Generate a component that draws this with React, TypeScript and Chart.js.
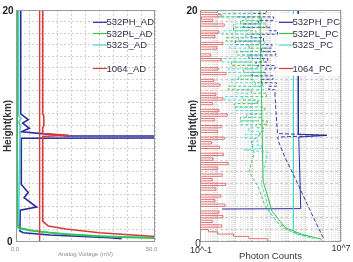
import React, { useEffect, useRef } from "react";
import { Chart, registerables } from "chart.js";

Chart.register(...registerables);

// ---------- colours ----------
const NAVY = "#2a2aa0";
const GREEN = "#3cc04c";
const CYAN = "#3fd8d2";
const RED = "#d83a3a";
const RED_PC = "#e05252";

// ---------- analog channels: height (km) -> voltage (mV) ----------
const PH_AD_KM = [20, 11.0, 10.5, 10.2, 9.76, 9.46, 9.1, 9.08, 8.92, 8.9, 4.9, 4.2, 3.75, 2.94, 2.66, 0.87, 0.72, 0.52, 0.29, 0.2];
const PH_AD_MV = [1.7, 1.7, 4.4, 2.4, 4.8, 2.0, 18, 60, 60, 1.9, 1.9, 4.4, 2.9, 7.4, 1.5, 1.4, 2.6, 12.2, 33.8, 38];

const PL_AD_KM = [20, 1.5, 1.15, 0.87, 0.58, 0.35, 0.23];
const PL_AD_MV = [0.4, 0.4, 0.8, 6.2, 18.2, 33.8, 52];

const S_AD_KM = [20, 10.9, 10.6, 10.3, 10.0, 1.3, 1.04, 0.72, 0.43, 0.29];
const S_AD_MV = [0.9, 0.9, 1.8, 1.0, 1.5, 0.9, 1.2, 12.2, 30, 52];

const IR_AD_KM = [20, 11.0, 10.8, 10.0, 9.8, 9.3, 9.15, 9.05, 1.73, 1.3, 1.04, 0.72, 0.35];
const IR_AD_MV = [9.6, 9.6, 10.0, 10.0, 9.6, 9.6, 19, 9.6, 9.6, 11.6, 18, 30, 52];

const IR_AD_BASE_KM = [20, 0];
const IR_AD_BASE_MV = [8.5, 8.5];

// ---------- photon-counting channels: height (km) -> counts ----------
const PH_PC_KM = [20, 9.25, 9.15, 9.0, 2.8, 2.77];
const PH_PC_COUNTS = [37000, 38000, 1.6e6, 40000, 52000, 1.8];

// raw 532PH counts, 0.3 km bins from 20 km
const PH_RAW_COUNTS = [40, 600, 15, 1500, 200, 30, 900, 2500, 80, 400, 10, 1200, 300, 2000, 60, 700, 150, 1800, 500, 90, 1400, 300, 2200, 800, 1800];
const PH_RAW_LOW_KM = [12.8, 12.5, 9.3, 9.15, 9.0, 8.7, 7.2, 5.45, 3.2, 1.73, 0.26];
const PH_RAW_LOW_COUNTS = [1800, 1800, 2500, 1.6e6, 2600, 2700, 6800, 25000, 120000, 340000, 1e6];

const PL_PC_KM = [20, 5.2, 2.6, 1.15, 0.58, 0.15];
const PL_PC_COUNTS = [250, 380, 1200, 6800, 60000, 8e5];

// raw 532PL counts, 0.3 km bins from 20 km
const PL_RAW_COUNTS = [5, 80, 2, 300, 20, 600, 8, 150, 40, 3, 250, 60, 700, 12, 90, 400, 6, 200, 30, 500, 15, 120, 350, 4, 80, 600, 25, 180, 9, 450, 70, 300, 20, 650, 150, 400, 250];
const PL_RAW_LOW_KM = [9.2, 8.6, 7.6, 6.0, 4.7, 3.0, 1.6, 0.8, 0.3];
const PL_RAW_LOW_COUNTS = [250, 80, 120, 60, 200, 500, 2500, 15000, 200000];

const S_PC_KM = [20, 0.87, 0.5];
const S_PC_COUNTS = [20000, 20000, 40000];

// raw 532S counts, 0.3 km bins from 20 km
const S_RAW_COUNTS = [3, 120, 1, 40, 300, 8, 60, 2, 200, 15, 450, 5, 90, 25, 350, 1.5, 70, 180, 4, 260, 30, 6, 140, 400, 12, 50, 2.5, 220, 80, 10, 320, 45, 150, 20, 100, 60, 250, 35, 180, 90, 300];
const S_RAW_LOW_KM = [8.0, 7.9, 7.7, 5.0, 2.5, 1.2, 0.6, 0.2];
const S_RAW_LOW_COUNTS = [300, 30, 700, 300, 900, 4000, 30000, 3e5];

// 1064 counts, 0.2 km bins from 20 km
const IR_PC_COUNTS = [
  0.1, 1, 0.1, 1.6, 0.12, 0.5, 0.1, 2.4, 0.1, 0.1, 1.2, 0.1, 0.7, 0.1, 0.1, 2, 0.1, 0.9, 0.1, 0.1,
  0.4, 0.1, 1.6, 0.1, 0.1, 0.1, 1.1, 0.1, 3, 0.1, 0.1, 0.6, 0.1, 1.4, 0.1, 0.1, 0.1, 0.8, 0.1, 2,
  0.1, 0.5, 0.1, 0.1, 1.2, 0.1, 3.5, 0.1, 0.65, 0.1, 0.1, 1.6, 0.1, 1, 0.1, 0.1, 2.4, 0.1, 0.45, 0.1,
  1.3, 0.1, 0.1, 2.2, 0.1, 0.55, 0.1, 4, 0.1, 1, 0.1, 0.1, 1.8, 0.1, 0.5, 0.1, 2.8, 0.1, 0.8, 0.1,
  0.1, 1.5, 0.1, 0.7, 0.1, 2.6, 0.1, 0.1, 1.2, 0.1, 2, 0.1, 0.5, 0.1, 1.7, 0.1, 0.3, 1, 8, 60, 700,
];

const AD_LEGEND = ["532PH_AD", "532PL_AD", "532S_AD", "1064_AD"];
const PC_LEGEND = ["532PH_PC", "532PL_PC", "532S_PC", "1064_PC"];
const LEGEND_COLORS = [NAVY, GREEN, CYAN, RED];

const FONT = '"Liberation Sans", Arial, sans-serif';

function profile(heights: number[], values: number[]) {
  return values.map((v, i) => ({ x: v, y: heights[i] }));
}

function bins(topKm: number, stepKm: number, count: number) {
  return Array.from({ length: count }, (_, i) => +(topKm - i * stepKm).toFixed(2));
}

function line(data: any[], color: string, width: number, extra: any = {}) {
  return {
    data,
    borderColor: color,
    borderWidth: width,
    pointRadius: 0,
    fill: false,
    tension: 0,
    ...extra,
  };
}

const framePlugin = {
  id: "frame",
  afterDatasetsDraw(chart: any) {
    const { ctx, chartArea: a } = chart;
    ctx.save();
    ctx.strokeStyle = "#9a9a9a";
    ctx.lineWidth = 1;
    ctx.strokeRect(a.left + 0.5, a.top + 0.5, a.right - a.left - 1, a.bottom - a.top);
    ctx.restore();
  },
};

function legendPlugin(labels: string[], boxed: boolean) {
  return {
    id: "insetLegend",
    afterDraw(chart: any) {
      const { ctx, chartArea: a } = chart;
      const rows = [12.3, 23.5, 35, 58.5];
      const x0 = a.right - 62;
      ctx.save();
      if (boxed) {
        ctx.fillStyle = "#fff";
        ctx.fillRect(x0 - 1, a.top + 4, a.right - x0, 62);
      }
      ctx.font = `9.5px ${FONT}`;
      ctx.textBaseline = "middle";
      ctx.textAlign = "left";
      labels.forEach((lab, i) => {
        const y = a.top + rows[i];
        ctx.strokeStyle = LEGEND_COLORS[i];
        ctx.lineWidth = 1.2;
        ctx.beginPath();
        ctx.moveTo(x0, y);
        ctx.lineTo(x0 + 14, y);
        ctx.stroke();
        ctx.fillStyle = "#33334a";
        ctx.fillText(lab, x0 + 13.5, y + 0.5);
      });
      ctx.restore();
    },
  };
}

function heightTitle(ctx: any, x: number, y: number) {
  ctx.save();
  ctx.translate(x, y);
  ctx.rotate(-Math.PI / 2);
  ctx.font = `bold 10px ${FONT}`;
  ctx.fillStyle = "#333";
  ctx.textAlign = "center";
  ctx.textBaseline = "middle";
  ctx.fillText("Height(km)", 0, 0);
  ctx.restore();
}

const analogAxisText = {
  id: "analogAxisText",
  afterDraw(chart: any) {
    const { ctx, chartArea: a, scales } = chart;
    const yTop = scales.y.getPixelForValue(20);
    const yBot = scales.y.getPixelForValue(0);
    ctx.save();
    ctx.fillStyle = "#222";
    ctx.font = `bold 10px ${FONT}`;
    ctx.textAlign = "right";
    ctx.textBaseline = "middle";
    ctx.fillText("20", a.left - 2.5, yTop + 1.5);
    ctx.fillText("0", a.left - 3.5, yBot + 1.5);
    ctx.font = `6px ${FONT}`;
    ctx.fillStyle = "#8c8c8c";
    ctx.textAlign = "center";
    ctx.fillText("0.0", scales.x.getPixelForValue(0) - 1, yBot + 8);
    ctx.fillText("50.0", scales.x.getPixelForValue(50) - 3.5, yBot + 8);
    ctx.fillText("Analog Voltage (mV)", (a.left + a.right) / 2, yBot + 13.5);
    ctx.restore();
    heightTitle(ctx, a.left - 7.5, (a.top + a.bottom) / 2 + 0.5);
  },
};

const photonAxisText = {
  id: "photonAxisText",
  afterDraw(chart: any) {
    const { ctx, chartArea: a, scales } = chart;
    const yTop = scales.y.getPixelForValue(20);
    const yBot = scales.y.getPixelForValue(0);
    ctx.save();
    ctx.fillStyle = "#222";
    ctx.font = `bold 10px ${FONT}`;
    ctx.textBaseline = "middle";
    ctx.textAlign = "right";
    ctx.fillText("20", a.left - 2.5, yTop + 1.5);
    ctx.textAlign = "center";
    ctx.font = `10px ${FONT}`;
    ctx.fillStyle = "#333";
    ctx.fillText("0", a.left - 2, yBot + 3.5);
    ctx.font = `9px ${FONT}`;
    ctx.fillText("10^-1", scales.x.getPixelForValue(0.1) + 1, yBot + 10);
    ctx.fillText("10^7", scales.x.getPixelForValue(1e7), yBot + 8);
    ctx.font = `9.5px ${FONT}`;
    ctx.fillText("Photon Counts", (a.left + a.right) / 2, yBot + 15.5);
    ctx.restore();
    heightTitle(ctx, a.left - 7, (a.top + a.bottom) / 2 + 0.5);
  },
};

const LOG_GRID: number[] = [];
for (let k = -1; k < 7; k++) {
  for (let m = 1; m < 10; m++) LOG_GRID.push(m * Math.pow(10, k));
}
LOG_GRID.push(1e7);

function heightScale(dash: number[]) {
  return {
    type: "linear",
    min: 0,
    max: 20,
    ticks: { display: false, stepSize: 1 },
    grid: { color: "#d0d0d0", drawTicks: false, lineWidth: 1 },
    border: { display: false, dash },
  };
}

export default function App() {
  const leftRef = useRef<HTMLCanvasElement>(null);
  const rightRef = useRef<HTMLCanvasElement>(null);

  useEffect(() => {
    const common = {
      animation: false,
      responsive: false,
      devicePixelRatio: 1,
      plugins: { legend: { display: false }, tooltip: { enabled: false } },
      elements: { point: { radius: 0 } },
    };

    const left = new Chart(leftRef.current!, {
      type: "line",
      data: {
        datasets: [
          line(profile(IR_AD_BASE_KM, IR_AD_BASE_MV), RED, 1.4),
          line(profile(IR_AD_KM, IR_AD_MV), RED, 1.6),
          line(profile(PL_AD_KM, PL_AD_MV), GREEN, 1.8),
          line(profile(S_AD_KM, S_AD_MV), CYAN, 1.6),
          line(profile(PH_AD_KM, PH_AD_MV), NAVY, 1.6),
        ],
      },
      options: {
        ...common,
        layout: { padding: { left: 16, top: 10, right: 198, bottom: 21 } },
        scales: {
          x: {
            type: "linear",
            min: 0,
            max: 50,
            ticks: { display: false, stepSize: 5 },
            grid: { color: "#d0d0d0", drawTicks: false, lineWidth: 1 },
            border: { display: false, dash: [2, 2] },
          },
          y: heightScale([2, 2]),
        },
      } as any,
      plugins: [framePlugin, analogAxisText, legendPlugin(AD_LEGEND, false)],
    });

    const right = new Chart(rightRef.current!, {
      type: "line",
      data: {
        datasets: [
          line(profile(bins(20, 0.2, IR_PC_COUNTS.length), IR_PC_COUNTS), RED_PC, 0.8, { stepped: "before" }),
          line(profile(bins(20, 0.3, S_RAW_COUNTS.length), S_RAW_COUNTS), CYAN, 0.9, { stepped: "before", borderDash: [3, 2] }),
          line(profile(S_RAW_LOW_KM, S_RAW_LOW_COUNTS), CYAN, 0.9, { borderDash: [3, 2] }),
          line(profile(bins(20, 0.3, PL_RAW_COUNTS.length), PL_RAW_COUNTS), GREEN, 0.9, { stepped: "before", borderDash: [3, 2] }),
          line(profile(PL_RAW_LOW_KM, PL_RAW_LOW_COUNTS), GREEN, 0.9, { borderDash: [3, 2] }),
          line(profile(bins(20, 0.3, PH_RAW_COUNTS.length), PH_RAW_COUNTS), NAVY, 0.9, { stepped: "before", borderDash: [3, 2] }),
          line(profile(PH_RAW_LOW_KM, PH_RAW_LOW_COUNTS), NAVY, 0.9, { borderDash: [4, 2] }),
          line(profile(PL_PC_KM, PL_PC_COUNTS), GREEN, 1),
          line(profile(S_PC_KM, S_PC_COUNTS), CYAN, 1),
          line(profile(PH_PC_KM, PH_PC_COUNTS), NAVY, 1),
        ],
      },
      options: {
        ...common,
        layout: { padding: { left: 200, top: 10, right: 12, bottom: 21 } },
        scales: {
          x: {
            type: "logarithmic",
            min: 0.1,
            max: 1e7,
            ticks: { display: false },
            afterBuildTicks: (scale: any) => {
              scale.ticks = LOG_GRID.map((value) => ({ value }));
            },
            grid: {
              drawTicks: false,
              lineWidth: 1,
              color: (c: any) => {
                const v = c.tick ? c.tick.value : 1;
                const e = Math.log10(v);
                return Math.abs(e - Math.round(e)) < 1e-6 ? "#c8c8c8" : "#e2e2e2";
              },
            },
            border: { display: false, dash: [1, 1] },
          },
          y: heightScale([3, 2]),
        },
      } as any,
      plugins: [framePlugin, photonAxisText, legendPlugin(PC_LEGEND, true)],
    });

    return () => {
      left.destroy();
      right.destroy();
    };
  }, []);

  const canvasStyle: React.CSSProperties = { position: "absolute", left: 0, top: 0, width: 353, height: 262 };

  return (
    <div style={{ position: "fixed", left: 0, top: 0, width: 353, height: 262, background: "#fff" }}>
      <canvas ref={leftRef} width={353} height={262} style={canvasStyle} />
      <canvas ref={rightRef} width={353} height={262} style={canvasStyle} />
    </div>
  );
}
